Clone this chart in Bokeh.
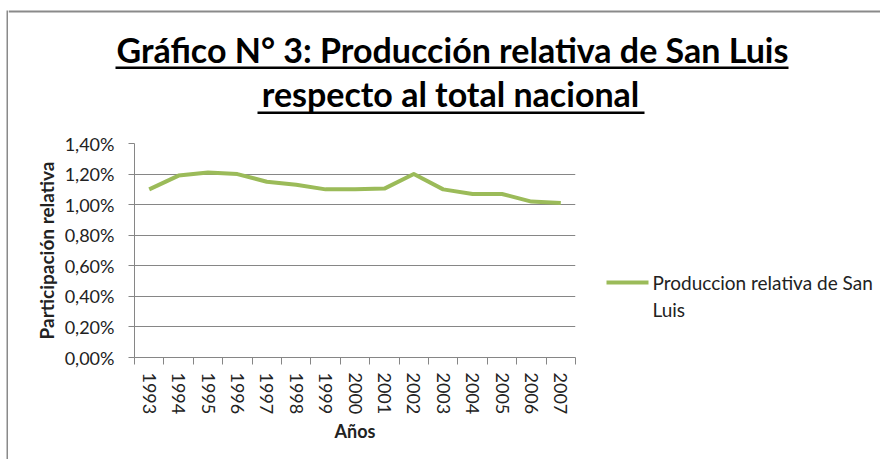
from bokeh.plotting import figure
from bokeh.models import Range1d, FixedTicker
from bokeh.layouts import column, row
from bokeh.core.properties import value
from bokeh.embed import file_html
from bokeh.resources import INLINE

# ---------------- data ----------------
years = ["1993", "1994", "1995", "1996", "1997", "1998", "1999", "2000",
         "2001", "2002", "2003", "2004", "2005", "2006", "2007"]
participacion = [1.10, 1.19, 1.21, 1.20, 1.15, 1.13, 1.10, 1.10,
                 1.105, 1.20, 1.10, 1.07, 1.07, 1.02, 1.01]
y_ticks = [0.0, 0.2, 0.4, 0.6, 0.8, 1.0, 1.2, 1.4]
y_tick_labels = ["0,00%", "0,20%", "0,40%", "0,60%", "0,80%", "1,00%", "1,20%", "1,40%"]
series_name = "Produccion relativa de San\nLuis"
title_lines = ["Gráfico N° 3: Producción relativa de San Luis",
               "respecto al total nacional"]
x_title = "Años"
y_title = "Participación relativa"

# ---------------- styling / layout constants ----------------
PAGE_W, PAGE_H = 880, 459
LEFT = 8                     # page x where the content column starts
HEAD_H = 118                 # height of the title band
CHART_W = 582                # chart figure (page x 8 .. 590)
LEG_W = PAGE_W - LEFT - CHART_W
BODY_H = PAGE_H - HEAD_H
FONT = "Lato"
GREEN = "#9bbb59"
GRAY = "#868686"
BORDER = "#8a8a8a"
TXT = "#222222"

# chart frame inside the chart figure (px)
FL, FR, FT, FB = 126, 567, 25, 239


def canvas_fig(w, h, x0, y0, top=0, bottom=0):
    """Decoration figure whose data units are page pixels (y pointing down)."""
    f = figure(width=w, height=h, output_backend="svg", toolbar_location=None,
               x_range=Range1d(x0, x0 + w),
               y_range=Range1d(y0 + h - bottom, y0 + top),
               x_axis_location=None, y_axis_location=None,
               min_border=0, min_border_top=top, min_border_bottom=bottom,
               outline_line_color=None)
    f.grid.visible = False
    f.background_fill_color = "white"
    f.border_fill_color = "white"
    return f


# ---------------- left border of the chart area ----------------
strip = figure(width=2, height=PAGE_H - 10, output_backend="svg", toolbar_location=None,
               x_axis_location=None, y_axis_location=None, min_border=0,
               outline_line_color=None, margin=(10, 0, 0, 6))
strip.grid.visible = False
strip.background_fill_color = BORDER
strip.border_fill_color = BORDER

# ---------------- title band ----------------
head = canvas_fig(PAGE_W - LEFT, HEAD_H, LEFT, 0)
head.quad(left=[LEFT], right=[PAGE_W], top=[10], bottom=[12],
          fill_color=BORDER, line_color=None)
head.text(x=[452, 450], y=[28, 72.5], text=title_lines,
          text_font=value(FONT), text_font_size="34px", text_font_style="bold",
          text_color="black", text_align="center", text_baseline="top")
head.quad(left=[115, 257], right=[788, 644], top=[66, 111], bottom=[68.5, 113.5],
          fill_color="black", line_color=None)

# ---------------- chart ----------------
x_pos = [i + 0.5 for i in range(len(years))]

p = figure(width=CHART_W, height=BODY_H, output_backend="svg", toolbar_location=None,
           x_range=Range1d(0, len(years)), y_range=Range1d(0, 1.4),
           min_border_left=FL, min_border_right=CHART_W - FR,
           min_border_top=FT, min_border_bottom=BODY_H - FB)
p.outline_line_color = None
p.background_fill_color = "white"
p.border_fill_color = "white"

p.line(x_pos, participacion, line_color=GREEN, line_width=4, line_join="round")

p.yaxis.ticker = FixedTicker(ticks=y_ticks, minor_ticks=[])
p.yaxis.major_label_overrides = {t: l for t, l in zip(y_ticks, y_tick_labels)}
p.yaxis.axis_line_color = GRAY
p.yaxis.major_tick_line_color = GRAY
p.yaxis.major_tick_out = 6
p.yaxis.major_tick_in = 0
p.yaxis.minor_tick_line_color = None
p.yaxis.major_label_text_font = FONT
p.yaxis.major_label_text_font_size = "18px"
p.yaxis.major_label_text_color = TXT
p.yaxis.major_label_standoff = 14
p.yaxis.axis_label = y_title
p.yaxis.axis_label_text_font = FONT
p.yaxis.axis_label_text_font_size = "19px"
p.yaxis.axis_label_text_font_style = "bold"
p.yaxis.axis_label_text_color = TXT
p.yaxis.axis_label_standoff = 4

p.xaxis.ticker = FixedTicker(ticks=x_pos, minor_ticks=list(range(len(years) + 1)))
p.xaxis.major_label_overrides = {x: y for x, y in zip(x_pos, years)}
p.xaxis.major_label_orientation = "vertical"
p.xaxis.axis_line_color = GRAY
p.xaxis.major_tick_line_color = None
p.xaxis.major_tick_out = 0
p.xaxis.major_tick_in = 0
p.xaxis.minor_tick_line_color = GRAY
p.xaxis.minor_tick_out = 7
p.xaxis.minor_tick_in = 0
p.xaxis.major_label_text_font = FONT
p.xaxis.major_label_text_font_size = "18px"
p.xaxis.major_label_text_color = TXT
p.xaxis.major_label_standoff = 8
p.xaxis.axis_label = x_title
p.xaxis.axis_label_text_font = FONT
p.xaxis.axis_label_text_font_size = "18px"
p.xaxis.axis_label_text_font_style = "bold"
p.xaxis.axis_label_text_color = TXT
p.xaxis.axis_label_standoff = 3

p.xgrid.grid_line_color = None
p.ygrid.ticker = FixedTicker(ticks=y_ticks)
p.ygrid.grid_line_color = GRAY
p.ygrid.grid_line_width = 1

# ---------------- legend (same frame band as the chart) ----------------
leg = canvas_fig(LEG_W, BODY_H, LEFT + CHART_W, HEAD_H, top=FT, bottom=BODY_H - FB)
leg.segment(x0=[606], y0=[282], x1=[648], y1=[282], line_color=GREEN, line_width=4)
leg.text(x=[652], y=[270], text=[series_name],
         text_font=value(FONT), text_font_size="19px", text_color=TXT,
         text_align="left", text_baseline="top", text_line_height=1.18)

layout = row(strip, column(head, row(p, leg)))
open("out.html", "w").write(file_html(layout, INLINE))
